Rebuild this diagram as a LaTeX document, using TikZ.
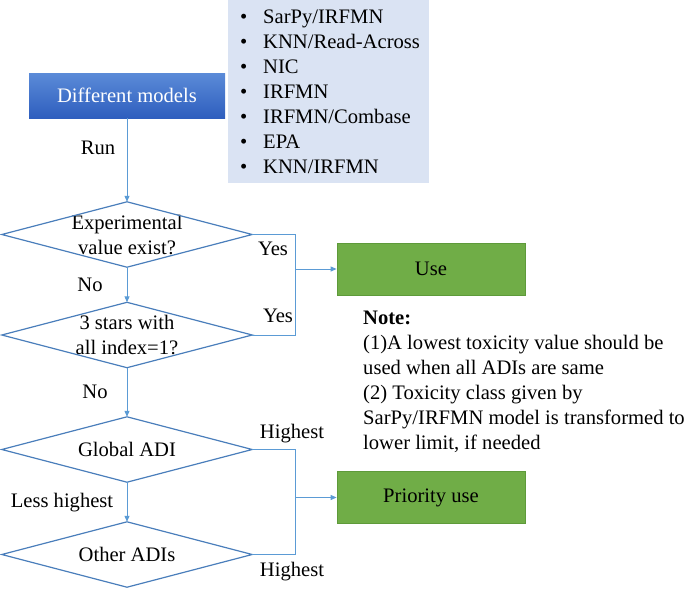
\documentclass[tikz,border=0pt]{standalone}
\usepackage{fontspec}
\setmainfont{Liberation Serif}
\usetikzlibrary{arrows.meta}
\definecolor{lineblue}{HTML}{5B9BD5}
\definecolor{diablue}{HTML}{4A7EBB}
\definecolor{topblue}{HTML}{5B8BD8}
\definecolor{botblue}{HTML}{2E5EBE}
\definecolor{listbg}{HTML}{DAE3F3}
\definecolor{gfill}{HTML}{70AD47}
\definecolor{gedge}{HTML}{5E9A3A}
\newcommand{\bitem}[1]{\mbox{\makebox[23pt][l]{\textbullet}#1}}
\begin{document}
\begin{tikzpicture}[x=1pt,y=-1pt, font=\fontsize{20.6}{25}\selectfont,
  every node/.style={inner sep=0pt},
  conn/.style={draw=lineblue, line width=1pt},
  arr/.style={conn, -{Triangle[length=6pt,width=5pt]}},
  diabox/.style={rectangle, minimum width=250pt, minimum height=65pt, align=center},
  diaedge/.style={draw=diablue, line width=1.2pt, line join=miter},
  greenbox/.style={rectangle, fill=gfill, draw=gedge, line width=0.8pt, minimum width=188pt, minimum height=52pt},
  lbl/.style={anchor=center}]
\useasboundingbox (0,0) rectangle (685,589);

% top boxes
\node[rectangle, top color=topblue, bottom color=botblue, text=white,
      minimum width=196pt, minimum height=45pt] (models) at (127,95.5) {Different models};
\node[fill=listbg, minimum width=201pt, minimum height=183pt, anchor=north west,
      text width=177pt, align=left, inner xsep=12pt] (list) at (228,0)
 {\bitem{SarPy/IRFMN}\\
  \bitem{KNN/Read-Across}\\
  \bitem{NIC}\\
  \bitem{IRFMN}\\
  \bitem{IRFMN/Combase}\\
  \bitem{EPA}\\
  \bitem{KNN/IRFMN}};

% decisions
\node[diabox] (d1) at (127,234.5) {Experimental\\value exist?};
\node[diabox] (d2) at (127,335) {3 stars with\\all index=1?};
\node[diabox] (d3) at (127,449.5) {Global ADI};
\node[diabox] (d4) at (127,554.5) {Other ADIs};
\foreach \d in {d1,d2,d3,d4}
  \draw[diaedge] (\d.north) -- (\d.east) -- (\d.south) -- (\d.west) -- cycle;

% outcomes
\node[greenbox] (use) at (431,269) {Use};
\node[greenbox] (prio) at (431,497.5) {Priority use};

% note
\node[anchor=north west, align=left] (note) at (363,311)
 {\textbf{Note:}\\(1)A lowest toxicity value should be\\used when all ADIs are same\\(2) Toxicity class given by\\SarPy/IRFMN model is transformed to\\lower limit, if needed};

% vertical flow
\draw[arr] (models.south) -- (d1.north);
\draw[arr] (d1.south) -- (d2.north);
\draw[arr] (d2.south) -- (d3.north);
\draw[arr] (d3.south) -- (d4.north);

% right side joins
\coordinate (jx) at (295,0);
\draw[conn] (d1.east) -- (d1.east -| jx) -- (d2.east -| jx) -- (d2.east);
\draw[arr] (use.west -| jx) -- (use.west);
\draw[conn] (d3.east) -- (d3.east -| jx) -- (d4.east -| jx) -- (d4.east);
\draw[arr] (prio.west -| jx) -- (prio.west);

% labels
\node[lbl] (lrun) at (98,148) {Run};
\node[lbl] (lno1) at (90,285) {No};
\node[lbl] (lyes1) at (273,249) {Yes};
\node[lbl] (lyes2) at (278,316) {Yes};
\node[lbl] (lno2) at (95,392) {No};
\node[lbl] (lhi1) at (292,434) {Highest};
\node[lbl] (lless) at (62,503) {Less highest};
\node[lbl] (lhi2) at (292,572) {Highest};
\end{tikzpicture}
\end{document}
